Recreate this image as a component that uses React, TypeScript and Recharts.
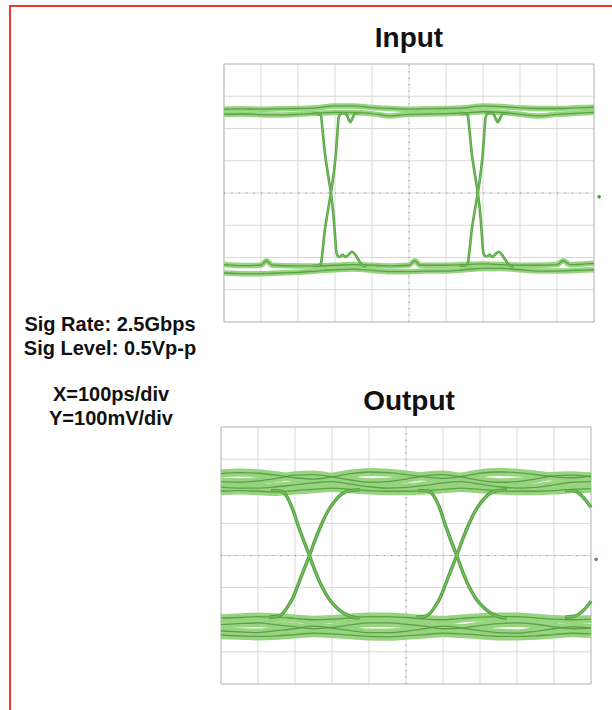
import React from "react";
import {
  LineChart,
  Line,
  XAxis,
  YAxis,
  CartesianGrid,
  ReferenceLine,
  ReferenceArea,
  ReferenceDot,
} from "recharts";

type Pt = [number, number];

// scope screen: 10 x 8 divisions, 0 at the centre
const X_TICKS = [0, 1, 2, 3, 4, 5, 6, 7, 8, 9, 10];
const Y_TICKS = [-4, -3, -2, -1, 0, 1, 2, 3, 4];
const GND_MARKER: Pt = [10.14, -0.12];

// ---- Input eye (divisions) ----
const IN_HIGH_A: Pt[] = [
  [0, 2.6], [0.5, 2.61], [1, 2.6], [1.5, 2.61], [2, 2.62], [2.5, 2.64], [3, 2.7],
  [3.5, 2.7], [4, 2.65], [4.5, 2.62], [5, 2.6], [5.5, 2.61], [6, 2.62], [6.5, 2.64],
  [7, 2.7], [7.5, 2.68], [8, 2.64], [8.5, 2.62], [9, 2.62], [9.5, 2.64], [10, 2.66],
];
const IN_HIGH_B: Pt[] = [
  [0, 2.44], [0.5, 2.45], [1, 2.43], [1.5, 2.42], [2, 2.44], [2.5, 2.47], [3, 2.5],
  [3.5, 2.5], [4, 2.46], [4.5, 2.39], [5, 2.44], [5.5, 2.45], [6, 2.46], [6.5, 2.48],
  [7, 2.52], [7.5, 2.5], [8, 2.44], [8.5, 2.39], [9, 2.44], [9.5, 2.47], [10, 2.5],
];
const IN_LOW_A: Pt[] = [
  [0, -2.22], [0.5, -2.25], [1, -2.24], [1.15, -2.1], [1.3, -2.24], [2, -2.26],
  [2.5, -2.26], [3, -2.24], [3.5, -2.22], [4, -2.24], [4.5, -2.26], [5, -2.24],
  [5.16, -2.1], [5.3, -2.24], [6, -2.24], [6.5, -2.22], [7, -2.2], [7.5, -2.22],
  [8, -2.24], [8.5, -2.24], [9, -2.22], [9.17, -2.1], [9.35, -2.22], [10, -2.18],
];
const IN_LOW_B: Pt[] = [
  [0, -2.48], [0.5, -2.5], [1, -2.5], [1.5, -2.48], [2, -2.46], [2.5, -2.42], [3, -2.38],
  [3.5, -2.36], [4, -2.4], [4.5, -2.44], [5, -2.44], [5.5, -2.42], [6, -2.42],
  [6.5, -2.38], [7, -2.34], [7.5, -2.34], [8, -2.38], [8.5, -2.42], [9, -2.42],
  [9.5, -2.4], [10, -2.38],
];
const IN_FALL_1: Pt[] = [
  [2.4, 2.48], [2.55, 2.47], [2.62, 2.4], [2.66, 2.0], [2.72, 1.3], [2.8, 0.65],
  [2.89, 0], [2.96, -0.7], [3.0, -1.3], [3.03, -1.78], [3.07, -1.95], [3.13, -1.98],
  [3.2, -1.92], [3.28, -1.98], [3.38, -1.9], [3.46, -1.82], [3.55, -1.92],
  [3.64, -2.08], [3.74, -2.24], [3.85, -2.27],
];
const IN_RISE_1: Pt[] = [
  [2.4, -2.26], [2.55, -2.25], [2.62, -2.18], [2.66, -1.85], [2.72, -1.2], [2.8, -0.6],
  [2.89, 0], [2.97, 0.65], [3.03, 1.3], [3.07, 1.95], [3.1, 2.35], [3.16, 2.46],
  [3.24, 2.48], [3.29, 2.46], [3.35, 2.34], [3.41, 2.2], [3.48, 2.34], [3.54, 2.46],
  [3.7, 2.48],
];
const IN_FALL_2: Pt[] = [
  [6.37, 2.48], [6.52, 2.47], [6.59, 2.4], [6.63, 2.0], [6.69, 1.3], [6.77, 0.65],
  [6.86, 0], [6.93, -0.7], [6.97, -1.3], [7.0, -1.78], [7.04, -1.94], [7.1, -1.97],
  [7.18, -1.92], [7.26, -1.98], [7.35, -1.88], [7.43, -1.82], [7.52, -1.93],
  [7.61, -2.08], [7.71, -2.24], [7.83, -2.27],
];
const IN_RISE_2: Pt[] = [
  [6.37, -2.26], [6.52, -2.25], [6.59, -2.18], [6.63, -1.85], [6.69, -1.2], [6.77, -0.6],
  [6.86, 0], [6.94, 0.65], [7.0, 1.3], [7.04, 1.95], [7.07, 2.35], [7.13, 2.46],
  [7.21, 2.48], [7.27, 2.46], [7.33, 2.34], [7.4, 2.2], [7.47, 2.34], [7.53, 2.46],
  [7.7, 2.48],
];

// ---- Output eye (divisions) ----
const OUT_HIGH_1: Pt[] = [
  [0, 2.55], [0.5, 2.58], [1, 2.56], [1.5, 2.5], [2, 2.42], [2.5, 2.38], [3, 2.45],
  [3.5, 2.55], [4, 2.6], [4.5, 2.58], [5, 2.52], [5.5, 2.45], [6, 2.4], [6.5, 2.46],
  [7, 2.56], [7.5, 2.6], [8, 2.58], [8.5, 2.52], [9, 2.45], [9.5, 2.42], [10, 2.48],
];
const OUT_HIGH_2: Pt[] = [
  [0, 2.3], [0.5, 2.28], [1, 2.32], [1.5, 2.4], [2, 2.5], [2.5, 2.52], [3, 2.45],
  [3.5, 2.35], [4, 2.28], [4.5, 2.3], [5, 2.38], [5.5, 2.48], [6, 2.52], [6.5, 2.44],
  [7, 2.34], [7.5, 2.28], [8, 2.3], [8.5, 2.38], [9, 2.48], [9.5, 2.5], [10, 2.45],
];
const OUT_HIGH_3: Pt[] = [
  [0, 2.12], [0.5, 2.1], [1, 2.1], [1.5, 2.14], [2, 2.2], [2.5, 2.26], [3, 2.3],
  [3.5, 2.22], [4, 2.14], [4.5, 2.1], [5, 2.12], [5.5, 2.18], [6, 2.26], [6.5, 2.3],
  [7, 2.22], [7.5, 2.14], [8, 2.1], [8.5, 2.12], [9, 2.2], [9.5, 2.28], [10, 2.3],
];
const OUT_HIGH_4: Pt[] = [
  [0, 2.0], [0.5, 2.02], [1, 2.0], [1.5, 1.98], [2, 2.02], [2.5, 2.06], [3, 2.1],
  [3.5, 2.06], [4, 2.02], [4.5, 2.0], [5, 2.0], [5.5, 2.02], [6, 2.06], [6.5, 2.1],
  [7, 2.06], [7.5, 2.02], [8, 2.0], [8.5, 2.0], [9, 2.02], [9.5, 2.06], [10, 2.08],
];
const OUT_LOW_1: Pt[] = [
  [0, -1.95], [0.5, -1.93], [1, -1.9], [1.5, -1.92], [2, -1.96], [2.5, -2.0], [3, -1.98],
  [3.5, -1.94], [4, -1.9], [4.5, -1.9], [5, -1.93], [5.5, -1.98], [6, -2.0], [6.5, -1.96],
  [7, -1.92], [7.5, -1.9], [8, -1.9], [8.5, -1.94], [9, -1.98], [9.5, -2.0], [10, -1.98],
];
const OUT_LOW_2: Pt[] = [
  [0, -2.15], [0.5, -2.12], [1, -2.1], [1.5, -2.16], [2, -2.22], [2.5, -2.28], [3, -2.24],
  [3.5, -2.16], [4, -2.1], [4.5, -2.1], [5, -2.14], [5.5, -2.2], [6, -2.28], [6.5, -2.26],
  [7, -2.18], [7.5, -2.12], [8, -2.1], [8.5, -2.14], [9, -2.22], [9.5, -2.28], [10, -2.26],
];
const OUT_LOW_3: Pt[] = [
  [0, -2.35], [0.5, -2.38], [1, -2.4], [1.5, -2.34], [2, -2.28], [2.5, -2.2], [3, -2.26],
  [3.5, -2.34], [4, -2.4], [4.5, -2.4], [5, -2.36], [5.5, -2.28], [6, -2.2], [6.5, -2.26],
  [7, -2.34], [7.5, -2.4], [8, -2.42], [8.5, -2.36], [9, -2.28], [9.5, -2.22], [10, -2.26],
];
const OUT_LOW_4: Pt[] = [
  [0, -2.48], [0.5, -2.5], [1, -2.52], [1.5, -2.5], [2, -2.46], [2.5, -2.42], [3, -2.44],
  [3.5, -2.48], [4, -2.52], [4.5, -2.53], [5, -2.5], [5.5, -2.46], [6, -2.42], [6.5, -2.44],
  [7, -2.48], [7.5, -2.52], [8, -2.52], [8.5, -2.5], [9, -2.46], [9.5, -2.42], [10, -2.44],
];
const OUT_FALL_1: Pt[] = [
  [1.35, 2.02], [1.55, 2.02], [1.7, 1.96], [1.82, 1.75], [1.95, 1.4], [2.08, 0.95],
  [2.23, 0.48], [2.39, 0], [2.55, -0.5], [2.72, -0.95], [2.92, -1.35], [3.12, -1.62],
  [3.32, -1.8], [3.52, -1.9], [3.75, -1.95],
];
const OUT_RISE_1: Pt[] = [
  [1.3, -1.92], [1.5, -1.9], [1.65, -1.82], [1.8, -1.6], [1.95, -1.3], [2.08, -0.92],
  [2.23, -0.47], [2.39, 0], [2.55, 0.5], [2.72, 0.98], [2.9, 1.4], [3.08, 1.7],
  [3.28, 1.93], [3.5, 2.02], [3.75, 2.05],
];
const OUT_FALL_2: Pt[] = [
  [5.33, 2.02], [5.53, 2.02], [5.68, 1.96], [5.8, 1.76], [5.93, 1.42], [6.06, 0.96],
  [6.21, 0.48], [6.37, 0], [6.53, -0.5], [6.7, -0.96], [6.9, -1.36], [7.1, -1.62],
  [7.3, -1.8], [7.5, -1.9], [7.73, -1.95],
];
const OUT_RISE_2: Pt[] = [
  [5.28, -1.92], [5.48, -1.9], [5.63, -1.82], [5.78, -1.6], [5.93, -1.3], [6.06, -0.92],
  [6.21, -0.47], [6.37, 0], [6.53, 0.5], [6.7, 0.98], [6.88, 1.4], [7.06, 1.7],
  [7.26, 1.93], [7.48, 2.02], [7.73, 2.05],
];
const OUT_FALL_3: Pt[] = [
  [9.3, 2.02], [9.5, 2.02], [9.65, 1.96], [9.78, 1.82], [9.9, 1.66], [10, 1.5],
];
const OUT_RISE_3: Pt[] = [
  [9.3, -1.92], [9.5, -1.9], [9.65, -1.84], [9.78, -1.72], [9.9, -1.58], [10, -1.42],
];

const toPts = (a: Pt[]) => a.map(([x, y]) => ({ x, y }));

interface ScopeProps {
  left: number;
  top: number;
  plotW: number;
  plotH: number;
  bands: Pt[][];
  edges: Pt[][];
  bandW: number;
  edgeW: number;
}

const M = { top: 4, right: 12, bottom: 4, left: 4 };

const Scope: React.FC<ScopeProps> = ({ left, top, plotW, plotH, bands, edges, bandW, edgeW }) => {
  const w = plotW + M.left + M.right;
  const h = plotH + M.top + M.bottom;
  return (
    <div style={{ position: "absolute", left: left - M.left, top: top - M.top }}>
      <LineChart width={w} height={h} margin={M}>
        <XAxis type="number" dataKey="x" domain={[0, 10]} ticks={X_TICKS} hide />
        <YAxis type="number" dataKey="y" domain={[-4, 4]} ticks={Y_TICKS} hide />
        <CartesianGrid stroke="#d9d9d9" strokeWidth={1} />
        <ReferenceLine x={5} stroke="#909090" strokeDasharray="1.2 5.2" />
        <ReferenceLine y={0} stroke="#909090" strokeDasharray="1.2 6.2" />
        <ReferenceArea x1={0} x2={10} y1={-4} y2={4} fill="none" fillOpacity={0} stroke="#c2c2c2" strokeWidth={1} />
        {bands.map((b, i) => (
          <Line
            key={`bl-${i}`}
            data={toPts(b)}
            dataKey="y"
            type="monotone"
            stroke="#98d37f"
            strokeWidth={bandW}
            dot={false}
            activeDot={false}
            isAnimationActive={false}
          />
        ))}
        {bands.map((b, i) => (
          <Line
            key={`bd-${i}`}
            data={toPts(b)}
            dataKey="y"
            type="monotone"
            stroke="#4a9637"
            strokeWidth={1.3}
            strokeOpacity={0.8}
            dot={false}
            activeDot={false}
            isAnimationActive={false}
          />
        ))}
        {edges.map((e, i) => (
          <Line
            key={`ed-${i}`}
            data={toPts(e)}
            dataKey="y"
            type="monotone"
            stroke="#52a040"
            strokeWidth={edgeW}
            dot={false}
            activeDot={false}
            isAnimationActive={false}
          />
        ))}
        {edges.map((e, i) => (
          <Line
            key={`el-${i}`}
            data={toPts(e)}
            dataKey="y"
            type="monotone"
            stroke="#76bf5f"
            strokeWidth={edgeW * 0.4}
            dot={false}
            activeDot={false}
            isAnimationActive={false}
          />
        ))}
        <ReferenceDot x={GND_MARKER[0]} y={GND_MARKER[1]} r={1.8} fill="#4f9b3c" stroke="none" ifOverflow="visible" />
      </LineChart>
    </div>
  );
};

const font = "'Liberation Sans', Arial, Helvetica, sans-serif";

export default function App() {
  return (
    <div style={{ position: "absolute", left: 0, top: 0, width: 612, height: 710, background: "#fff", fontFamily: font }}>
      <div
        style={{
          position: "absolute",
          left: 9,
          top: 5,
          width: 603,
          height: 705,
          boxSizing: "border-box",
          borderTop: "2px solid #ee3a2c",
          borderLeft: "2px solid #ee3a2c",
        }}
      />
      <div style={{ position: "absolute", left: 309, top: 24, width: 200, textAlign: "center", fontSize: 28, lineHeight: "28px", fontWeight: 700, color: "#111" }}>
        Input
      </div>
      <div style={{ position: "absolute", left: 309, top: 387, width: 200, textAlign: "center", fontSize: 28, lineHeight: "28px", fontWeight: 700, color: "#111" }}>
        Output
      </div>
      <div style={{ position: "absolute", left: 0, top: 312, width: 220, textAlign: "center", fontSize: 20, lineHeight: "24px", fontWeight: 700, color: "#111" }}>
        <div>Sig Rate: 2.5Gbps</div>
        <div>Sig Level: 0.5Vp-p</div>
      </div>
      <div style={{ position: "absolute", left: 0, top: 382, width: 222, textAlign: "center", fontSize: 20, lineHeight: "24px", fontWeight: 700, color: "#111" }}>
        <div>X=100ps/div</div>
        <div>Y=100mV/div</div>
      </div>
      <Scope
        left={224}
        top={64}
        plotW={370}
        plotH={258}
        bands={[IN_HIGH_A, IN_HIGH_B, IN_LOW_A, IN_LOW_B]}
        edges={[IN_FALL_1, IN_RISE_1, IN_FALL_2, IN_RISE_2]}
        bandW={5.5}
        edgeW={2.6}
      />
      <Scope
        left={221}
        top={427}
        plotW={370}
        plotH={257}
        bands={[OUT_HIGH_1, OUT_HIGH_2, OUT_HIGH_3, OUT_HIGH_4, OUT_LOW_1, OUT_LOW_2, OUT_LOW_3, OUT_LOW_4]}
        edges={[OUT_FALL_1, OUT_RISE_1, OUT_FALL_2, OUT_RISE_2, OUT_FALL_3, OUT_RISE_3]}
        bandW={8}
        edgeW={3.4}
      />
    </div>
  );
}
